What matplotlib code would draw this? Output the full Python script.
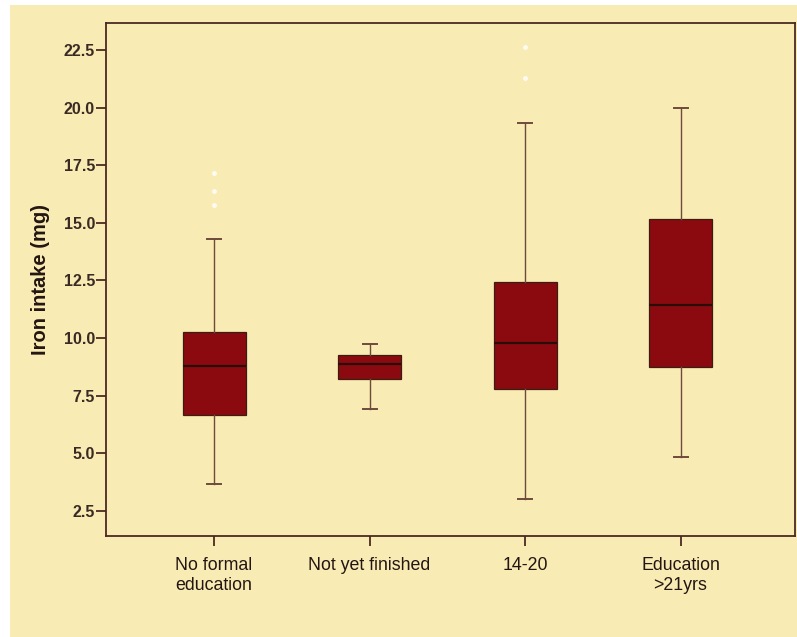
import matplotlib
matplotlib.use('Agg')
import matplotlib.pyplot as plt
from matplotlib.patches import Rectangle

plt.rcParams['font.family'] = ['Liberation Sans', 'DejaVu Sans']

groups = ['No formal\neducation', 'Not yet finished', '14-20', 'Education\n>21yrs']
whis_lo = [3.68, 6.93, 3.01, 4.86]
q1 = [6.66, 8.23, 7.79, 8.73]
med = [8.79, 8.86, 9.80, 11.44]
q3 = [10.28, 9.25, 12.45, 15.17]
whis_hi = [14.29, 9.73, 19.32, 20.0]
outliers = [[15.78, 16.4, 17.15], [], [21.3, 22.64], []]
yticks = [2.5, 5.0, 7.5, 10.0, 12.5, 15.0, 17.5, 20.0, 22.5]

BG = '#f9ebb4'
BOX = '#8a0a10'
EDGE = '#3d1c14'
LINE = '#6e4a3c'

fig = plt.figure(figsize=(7.97, 6.37), dpi=100)
fig.patch.set_facecolor('white')
fig.patches.append(Rectangle((0.012, 0), 0.988, 0.992, transform=fig.transFigure,
                             facecolor=BG, edgecolor='none', zorder=-10))

ax = fig.add_axes([0.133, 0.1585, 0.8645, 0.8054])
ax.set_facecolor(BG)

stats = []
for i in range(len(groups)):
    stats.append(dict(whislo=whis_lo[i], q1=q1[i], med=med[i], q3=q3[i],
                      whishi=whis_hi[i], fliers=outliers[i]))

ax.bxp(stats, positions=[1, 2, 3, 4], widths=0.405, capwidths=0.09,
       patch_artist=True,
       boxprops=dict(facecolor=BOX, edgecolor=EDGE, linewidth=0.9),
       medianprops=dict(color='#2a0c08', linewidth=1.6),
       whiskerprops=dict(color=LINE, linewidth=1.0),
       capprops=dict(color=LINE, linewidth=1.4),
       flierprops=dict(marker='o', markersize=3.5, markerfacecolor='white',
                       markeredgecolor='none', alpha=0.85))

ax.set_xlim(0.305, 4.736)
ax.set_ylim(1.415, 23.67)
ax.set_yticks(yticks)
ax.set_yticklabels([f'{v:.1f}' for v in yticks], fontsize=11.5, fontweight='bold',
                   color='#3a2a24')
ax.set_xticks([1, 2, 3, 4])
ax.set_xticklabels(groups, fontsize=12.8, color='#231612', linespacing=1.25)
ax.tick_params(axis='both', direction='out', length=7, width=1.3, color='#4a2a20')
ax.tick_params(axis='x', pad=8)
ax.tick_params(axis='y', pad=1)
ax.set_ylabel('Iron intake (mg)', fontsize=14.5, fontweight='bold', color='#231612',
              labelpad=10)

for spine in ax.spines.values():
    spine.set_color('#4a2a20')
    spine.set_linewidth(1.3)

fig.savefig('out.png', dpi=100, facecolor=fig.get_facecolor())
plt.close(fig)
